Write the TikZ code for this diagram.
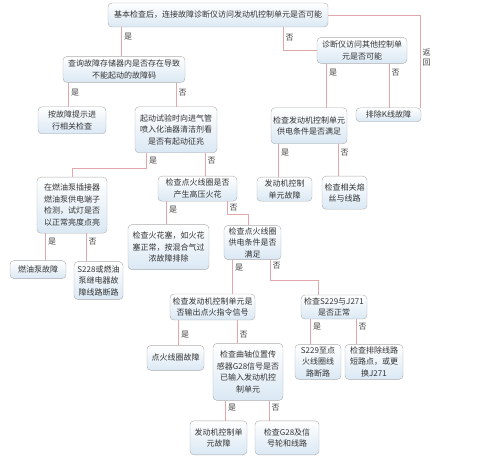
\documentclass[tikz,border=0pt]{standalone}
\usepackage{fontspec}
\setmainfont{Noto Sans CJK SC}
\usetikzlibrary{positioning}
\definecolor{boxblue}{RGB}{218,232,244}
\definecolor{linkpink}{RGB}{224,168,168}

\begin{document}
\begin{tikzpicture}[
    x=1pt, y=1pt,
    font=\fontsize{8}{11.5}\selectfont,
    box/.style={
        draw=gray!65,
        rounded corners=4pt,
        top color=white,
        bottom color=boxblue,
        inner sep=1pt,
        align=center,
        text=black!80
    },
    link/.style={draw=linkpink, line width=0.8pt},
    ans/.style={right, inner sep=2pt, text=black!75}
]
\useasboundingbox (0,0) rectangle (500,-457);

\node[box, minimum width=220pt, minimum height=24pt] (root) at (218,-15)
    {基本检查后，连接故障诊断仪访问发动机控制单元是否可能};

% lijevo: dijagnoza moguca
\node[box, below=29pt of root, xshift=-94pt, minimum width=122pt, minimum height=26pt] (query)
    {查询故障存储器内是否存在导致\\不能起动的故障码};
\node[box, below=24pt of query, xshift=-52pt, minimum width=68pt, minimum height=27pt] (hint)
    {按故障提示进\\行相关检查};
\node[box, below=24pt of query, xshift=52pt, minimum width=82pt, minimum height=46pt] (crank)
    {起动试验时向进气管\\喷入化油器清洁剂看\\是否有起动征兆};
\node[box, below=24pt of crank, xshift=-104pt, minimum width=70pt, minimum height=56pt] (pump)
    {在燃油泵插接器\\燃油泵供电端子\\检测，试灯是否\\以正常亮度点亮};
\node[box, below=23pt of crank, xshift=21.5pt, minimum width=79pt, minimum height=25pt] (spark)
    {检查点火线圈是否\\产生高压火花};
\node[box, below=27pt of pump, xshift=-34pt, minimum width=56pt, minimum height=18pt] (pumpf)
    {燃油泵故障};
\node[box, below=28pt of pump, xshift=26.5pt, minimum width=49pt, minimum height=38pt] (relay)
    {S228或燃油\\泵继电器故\\障线路断路};
\node[box, below=23pt of spark, xshift=-29pt, minimum width=81pt, minimum height=45pt] (plug)
    {检查火花塞，如火花\\塞正常，按混合气过\\浓故障排除};
\node[box, below=24pt of spark, xshift=55pt, minimum width=57pt, minimum height=34pt] (coil)
    {检查点火线圈\\供电条件是否\\满足};
\node[box, below=34pt of coil, xshift=-40pt, minimum width=85pt, minimum height=26pt] (trig)
    {检查发动机控制单元是\\否输出点火指令信号};
\node[box, below=35pt of coil, xshift=81.5pt, minimum width=66pt, minimum height=24pt] (sj)
    {检查S229与J271\\是否正常};
\node[box, below=25pt of trig, xshift=-37pt, minimum width=57pt, minimum height=25pt] (coilf)
    {点火线圈故障};
\node[box, below=23pt of trig, xshift=35.5pt, minimum width=70pt, minimum height=57pt] (gsens)
    {检查曲轴位置传\\感器G28信号是否\\已输入发动机控\\制单元};
\node[box, below=25pt of sj, xshift=-16pt, minimum width=46pt, minimum height=35pt] (swire)
    {S229至点\\火线圈线\\路断路};
\node[box, below=25pt of sj, xshift=40pt, minimum width=58pt, minimum height=35pt] (short)
    {检查排除线路\\短路点，或更\\换J271};
\node[box, below=20pt of gsens, xshift=-29.5pt, minimum width=57pt, minimum height=34pt] (ecub)
    {发动机控制单\\元故障};
\node[box, below=20pt of gsens, xshift=39pt, minimum width=64pt, minimum height=34pt] (gwire)
    {检查G28及信\\号轮和线路};

% desno: dijagnoza nije moguca
\node[box, below=10pt of root, xshift=144pt, minimum width=90pt, minimum height=26pt] (other)
    {诊断仪访问其他控制单\\元是否可能};
\node[box, below=44pt of other, xshift=-53pt, minimum width=76pt, minimum height=36pt] (power)
    {检查发动机控制单元\\供电条件是否满足};
\node[box, below=44pt of other, xshift=26.5pt, minimum width=65pt, minimum height=14pt] (kline)
    {排除K线故障};
\node[box, below=33pt of power, xshift=-24.5pt, minimum width=55pt, minimum height=24pt] (ecua)
    {发动机控制\\单元故障};
\node[box, below=32pt of power, xshift=35.5pt, minimum width=45pt, minimum height=33pt] (fuse)
    {检查相关熔\\丝与线路};

% veze
\draw[link] ([xshift=14pt]root.south west) -- ([xshift=14pt]root.south west |- query.north)
    node[ans, pos=0.34] {是};
\draw[link] ([xshift=-45pt]root.south east) |- (other.west)
    node[ans, pos=0.22] {否};
\draw[link] (root.east) -| ([xshift=-1pt]kline.north east)
    node[ans, pos=0.73, align=center, font=\fontsize{8}{9.5}\selectfont] {返\\回};

\draw[link] ([xshift=6pt]query.south west) -- ([xshift=6pt]query.south west |- hint.north)
    node[ans, pos=0.42] {是};
\draw[link] ([xshift=-9pt]query.south east) -- ([xshift=-9pt]query.south east |- crank.north)
    node[ans, pos=0.42] {否};

\draw[link] ([xshift=12pt]crank.south west) -- node[ans] {是} ++(0,-15) -| (pump.north);
\draw[link] ([xshift=-12pt]crank.south east) -- ([xshift=-12pt]crank.south east |- spark.north)
    node[ans, pos=0.35] {否};

\draw[link] ([xshift=9pt]pump.south west) -- ([xshift=9pt]pump.south west |- pumpf.north)
    node[ans, pos=0.3] {是};
\draw[link] ([xshift=-21pt]pump.south east) -- ([xshift=-21pt]pump.south east |- relay.north)
    node[ans, pos=0.3] {否};

\draw[link] ([xshift=9pt]spark.south west) -- ([xshift=9pt]spark.south west |- plug.north)
    node[ans, pos=0.35] {是};
\draw[link] ([xshift=-10pt]spark.south east) -- node[ans] {否} ++(0,-13) -| ([xshift=-4.5pt]coil.north);

\draw[link] ([xshift=9pt]coil.south west) -- ([xshift=9pt]coil.south west |- trig.north)
    node[ans, pos=0.24] {是};
\draw[link] ([xshift=-11pt]coil.south east) -- node[ans, pos=0.3] {否} ++(0,-21) -| ([xshift=-16pt]sj.north);

\draw[link] ([xshift=9pt]trig.south west) -- ([xshift=9pt]trig.south west |- coilf.north)
    node[ans, pos=0.56] {是};
\draw[link] ([xshift=-18pt]trig.south east) -- ([xshift=-18pt]trig.south east |- gsens.north)
    node[ans, pos=0.65] {否};

\draw[link] ([xshift=10pt]sj.south west) -- ([xshift=10pt]sj.south west |- swire.north)
    node[ans, pos=0.28] {是};
\draw[link] ([xshift=-11pt]sj.south east) -- ([xshift=-11pt]sj.south east |- short.north)
    node[ans, pos=0.28] {否};

\draw[link] ([xshift=13pt]gsens.south west) -- ([xshift=13pt]gsens.south west |- ecub.north)
    node[ans, pos=0.35] {是};
\draw[link] ([xshift=-14pt]gsens.south east) -- ([xshift=-14pt]gsens.south east |- gwire.north)
    node[ans, pos=0.35] {否};

\draw[link] ([xshift=10pt]other.south west) -- ([xshift=10pt]other.south west |- power.north)
    node[ans, pos=0.2] {是};
\draw[link] ([xshift=-18pt]other.south east) -- ([xshift=-18pt]other.south east |- kline.north)
    node[ans, pos=0.2] {否};

\draw[link] ([xshift=8pt]power.south west) -- ([xshift=8pt]power.south west |- ecua.north)
    node[ans, pos=0.27] {是};
\draw[link] ([xshift=-9pt]power.south east) -- ([xshift=-9pt]power.south east |- fuse.north)
    node[ans, pos=0.28] {否};

\end{tikzpicture}
\end{document}
